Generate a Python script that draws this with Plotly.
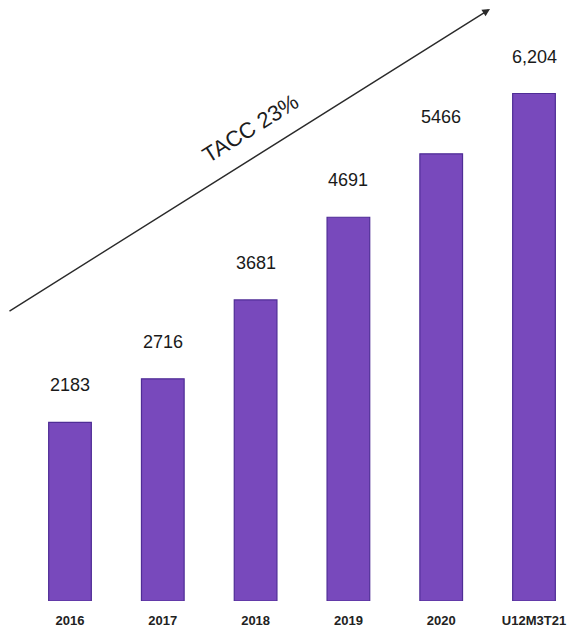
import plotly.graph_objects as go

# Annual totals with the latest trailing-twelve-month figure
categories = ["2016", "2017", "2018", "2019", "2020", "U12M3T21"]
values = [2183, 2716, 3681, 4691, 5466, 6204]
value_labels = ["2183", "2716", "3681", "4691", "5466", "6,204"]
growth_label = "TACC 23%"

W, H = 571, 633
BOTTOM = 32

fig = go.Figure()
fig.add_trace(go.Bar(
    x=categories,
    y=values,
    width=0.46,
    marker=dict(color="#7849bc", line=dict(color="#4f2d96", width=1.2)),
    hoverinfo="skip",
))

# Value labels above each bar (category axis positions by index)
for i, (val, lab) in enumerate(zip(values, value_labels)):
    fig.add_annotation(
        x=i, y=val, text=lab, showarrow=False,
        xanchor="center", yanchor="middle", yshift=37,
        font=dict(family="Liberation Sans, Arial", size=18, color="#1a1a1a"),
    )

# Growth trend arrow with its rotated caption
fig.add_annotation(
    xref="paper", yref="paper", x=490 / W, y=1 - 9 / (H - BOTTOM),
    axref="pixel", ayref="pixel", ax=-482, ay=303,
    showarrow=True, arrowhead=2, arrowsize=1.1, arrowwidth=1.4,
    arrowcolor="#2a2a2a", text="",
)
fig.add_annotation(
    xref="paper", yref="paper", x=250 / W, y=1 - 128 / (H - BOTTOM),
    xanchor="center", yanchor="middle",
    text=growth_label, showarrow=False, textangle=-32,
    font=dict(family="Liberation Sans, Arial", size=22, color="#1c1c1c"),
)

px_per_cat = 92.8
left = -70 / px_per_cat
fig.update_layout(
    width=W, height=H,
    margin=dict(l=0, r=0, t=0, b=BOTTOM),
    paper_bgcolor="white", plot_bgcolor="white",
    showlegend=False,
    xaxis=dict(
        type="category",
        range=[left, left + W / px_per_cat],
        showgrid=False, zeroline=False, showline=False, ticks="",
        ticklabelstandoff=10,
        tickfont=dict(family="Liberation Sans, Arial", size=13, color="#222"),
        tickprefix="<b>", ticksuffix="</b>",
    ),
    yaxis=dict(
        range=[0, 7347], visible=False, showgrid=False, zeroline=False,
    ),
)

fig.write_html("out.html")
